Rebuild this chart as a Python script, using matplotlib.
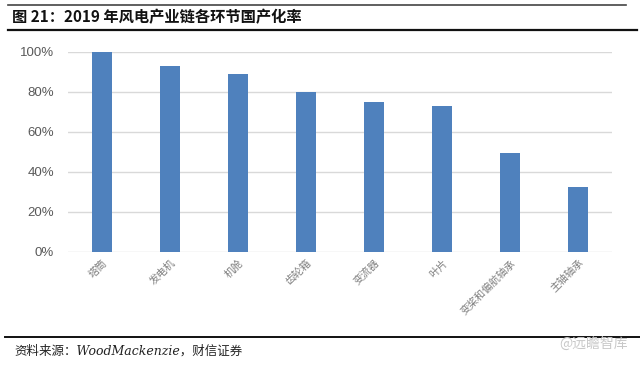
import matplotlib
matplotlib.use("Agg")
import matplotlib.pyplot as plt
from matplotlib.lines import Line2D
from matplotlib.ticker import FuncFormatter

plt.rcParams["font.family"] = ["Noto Sans CJK SC", "DejaVu Sans"]

C_BAR = "#4F81BD"
C_GRID = "#D9D9D9"
C_TICK = "#595959"

categories = ["塔筒", "发电机", "机舱", "齿轮箱", "变流器", "叶片", "变桨和偏航轴承", "主轴轴承"]
localization = [100, 93, 89, 80, 75, 73, 49.5, 32.5]
yticks = [0, 20, 40, 60, 80, 100]

fig = plt.figure(figsize=(6.4, 3.66), dpi=100)
W, H = 640, 366

# plot area in pixel coords: x 68..612, y 52 (100%) .. 252 (0%)
ax = fig.add_axes([68 / W, 1 - 252 / H, (612 - 68) / W, (252 - 52) / H])
x = range(len(categories))
ax.bar(x, localization, width=0.3, color=C_BAR, zorder=3)
ax.set_xlim(-0.5, len(categories) - 0.5)
ax.set_ylim(0, 100)
ax.set_yticks(yticks)
ax.yaxis.set_major_formatter(FuncFormatter(lambda v, _: f"{v:.0f}%"))
ax.grid(axis="y", color=C_GRID, linewidth=1.0, zorder=0)
ax.set_axisbelow(True)
for s in ax.spines.values():
    s.set_visible(False)
ax.tick_params(axis="y", length=0, pad=10, labelsize=9.5, labelcolor=C_TICK)
ax.tick_params(axis="x", length=0, pad=4)
ax.set_xticks(list(x))
ax.set_xticklabels(categories, rotation=45, ha="right", rotation_mode="anchor",
                   fontsize=7.5, color="#7F7F7F")
for lbl in ax.get_yticklabels():
    lbl.set_family(["Liberation Sans", "DejaVu Sans"])
# clip off so the 100% bar isn't cut
for p in ax.patches:
    p.set_clip_on(False)

# header / footer rules
def hline(y, x0, x1, lw, color="#222222"):
    fig.add_artist(Line2D([x0 / W, x1 / W], [1 - y / H, 1 - y / H],
                          color=color, linewidth=lw))

hline(4.5, 8, 626, 1.2, "#444444")
hline(30, 8, 637, 1.6, "#111111")
hline(337, 5, 640, 1.4, "#111111")

fig.text(12 / W, 1 - 17 / H, "图 21：2019 年风电产业链各环节国产化率",
         fontsize=11, fontweight="bold", va="center", ha="left", color="#111111")
fig.text(14 / W, 1 - 351 / H, "资料来源：WoodMackenzie，财信证券",
         fontsize=9, va="center", ha="left", color="#222222", style="italic",
         family=["DejaVu Serif", "Noto Sans CJK SC"])
fig.text(628 / W, 1 - 344 / H, "@远瞻智库", fontsize=10, va="center", ha="right",
         color="#C8C8C8")

fig.savefig("out.png", dpi=100)
